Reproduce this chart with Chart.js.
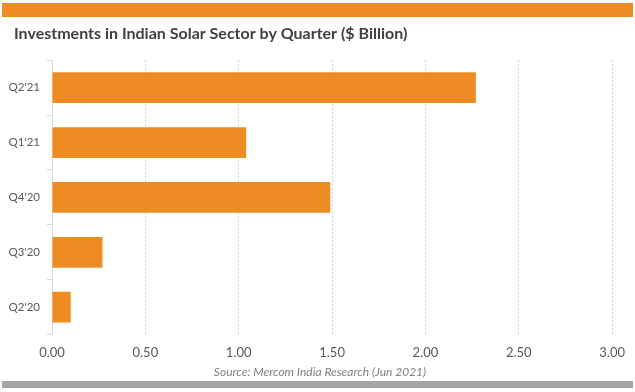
<!DOCTYPE html>
<html>
<head>
<meta charset="utf-8">
<script src="https://cdn.jsdelivr.net/npm/chart.js@4"></script>
<style>
  body { margin: 0; background: #fff; }
  #wrap { position: relative; width: 635px; height: 392px; }
  #topBand { position: absolute; left: 2px; top: 3px; width: 631px; height: 14px; background: #ed8c23; }
  #bottomBand { position: absolute; left: 2px; top: 381px; width: 631px; height: 7px; background: #a5a5a5; }
  canvas { position: absolute; left: 0; top: 0; }
</style>
</head>
<body>
<div id="wrap">
  <canvas id="chart" width="635" height="392"></canvas>
  <div id="topBand"></div>
  <div id="bottomBand"></div>
</div>
<script>
// quarters, top to bottom as in the picture
var quarters = ["Q2'21", "Q1'21", "Q4'20", "Q3'20", "Q2'20"];
var investments = [2.27, 1.04, 1.49, 0.27, 0.10];
var xTicks = [0, 0.5, 1, 1.5, 2, 2.5, 3];

var fontFam = "Lato, 'Open Sans', sans-serif";
var sourceText = 'Source: Mercom India Research (Jun 2021)';

// nudge title / source boxes (they only take top/bottom padding)
var boxShift = {
    id: 'boxShift',
    afterLayout: function(chart) {
        chart.boxes.forEach(function(b) {
            if (!b.options || b.options.text === undefined) return;
            if (b === chart.titleBlock) b.left += 12;
            else if (b.options.text === sourceText) b.left += 18;
        });
    }
};

var ctx = document.getElementById('chart').getContext('2d');
var myChart = new Chart(ctx, {
    type: 'bar',
    data: {
        labels: quarters,
        datasets: [{
            label: 'Investments',
            data: investments,
            backgroundColor: '#ed8c23',
            borderWidth: 0,
            categoryPercentage: 0.56,
            barPercentage: 1
        }]
    },
    options: {
        indexAxis: 'y',
        responsive: false,
        animation: false,
        layout: {
            padding: { left: 2, right: 15, top: 0, bottom: 13 }
        },
        plugins: {
            legend: { display: false },
            tooltip: { enabled: false },
            title: {
                display: true,
                text: 'Investments in Indian Solar Sector by Quarter ($ Billion)',
                align: 'start',
                color: '#404040',
                font: { family: fontFam, size: 16, weight: 'bold' },
                padding: { top: 24, bottom: 17 }
            },
            subtitle: {
                display: true,
                position: 'bottom',
                text: sourceText,
                color: '#7f7f7f',
                font: { family: fontFam, size: 12, style: 'italic' },
                padding: { top: 0, bottom: 0 }
            }
        },
        scales: {
            x: {
                min: 0,
                max: 3,
                afterBuildTicks: function(axis) {
                    axis.ticks = xTicks.map(function(v){ return { value: v }; });
                },
                afterFit: function(axis) { axis.height = 30; },
                ticks: {
                    color: '#595959',
                    font: { family: fontFam, size: 13 },
                    padding: 10,
                    callback: function(v) { return Number(v).toFixed(2); }
                },
                grid: {
                    color: '#d0d0d0',
                    drawTicks: false,
                    tickBorderDash: [2, 2]
                },
                border: { display: false, dash: [2, 2] }
            },
            y: {
                afterFit: function(axis) { axis.width = 50; },
                ticks: {
                    color: '#595959',
                    font: { family: fontFam, size: 11.5 },
                    padding: 7
                },
                grid: {
                    drawOnChartArea: false,
                    offset: true,
                    tickLength: 5,
                    color: '#d9d9d9'
                },
                border: { display: true, color: '#d9d9d9' }
            }
        }
    },
    plugins: [boxShift]
});
</script>
</body>
</html>
